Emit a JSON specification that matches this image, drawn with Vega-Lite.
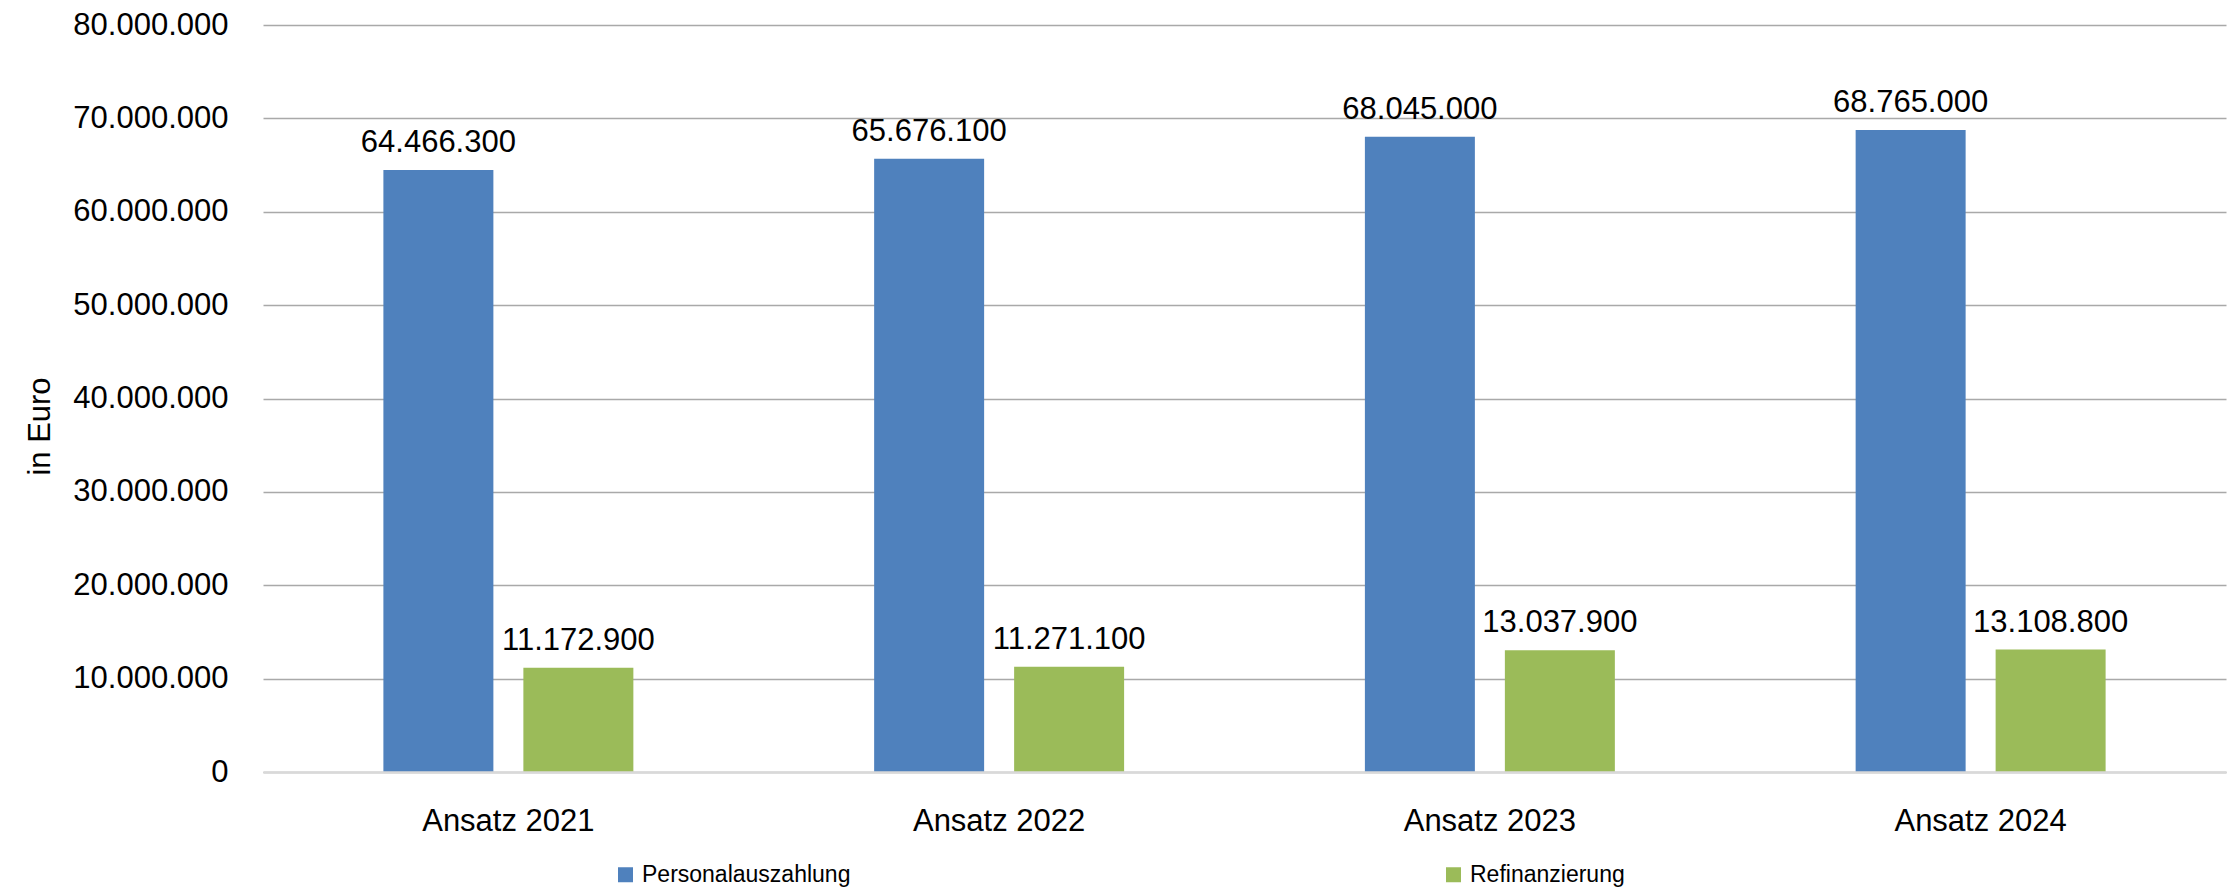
{
  "$schema": "https://vega.github.io/schema/vega-lite/v6.json",
  "width": 1963,
  "height": 747,
  "autosize": {"type": "none"},
  "padding": {"left": 263, "top": 25, "right": 2, "bottom": 119},
  "config": {
    "locale": {"number": {"decimal": ",", "thousands": ".", "grouping": [3], "currency": ["", " €"]}},
    "view": {"stroke": null},
    "font": "Liberation Sans"
  },
  "data": {
    "values": [
      {"jahr": "Ansatz 2021", "art": "Personalauszahlung", "wert": 64466300},
      {"jahr": "Ansatz 2021", "art": "Refinanzierung", "wert": 11172900},
      {"jahr": "Ansatz 2022", "art": "Personalauszahlung", "wert": 65676100},
      {"jahr": "Ansatz 2022", "art": "Refinanzierung", "wert": 11271100},
      {"jahr": "Ansatz 2023", "art": "Personalauszahlung", "wert": 68045000},
      {"jahr": "Ansatz 2023", "art": "Refinanzierung", "wert": 13037900},
      {"jahr": "Ansatz 2024", "art": "Personalauszahlung", "wert": 68765000},
      {"jahr": "Ansatz 2024", "art": "Refinanzierung", "wert": 13108800}
    ]
  },
  "encoding": {
    "x": {
      "field": "jahr", "type": "nominal",
      "scale": {"paddingInner": 0, "paddingOuter": 0},
      "axis": {
        "title": null, "labelAngle": 0, "ticks": false, "tickSize": 0, "labelLimit": 0,
        "labelFont": "Liberation Sans", "labelFontSize": 31, "labelColor": "#000000",
        "labelBaseline": "alphabetic", "labelPadding": 58,
        "domainColor": "#D9D9D9", "domainWidth": 2.5, "grid": false, "zindex": 1
      }
    },
    "xOffset": {
      "field": "art", "type": "nominal",
      "scale": {"paddingInner": 0.2143, "paddingOuter": 0.86}
    },
    "y": {
      "field": "wert", "type": "quantitative",
      "scale": {"domain": [0, 80000000], "nice": false},
      "axis": {
        "title": "in Euro", "format": ",d", "values": [0,10000000,20000000,30000000,40000000,50000000,60000000,70000000,80000000],
        "labelOverlap": false,
        "ticks": false, "tickSize": 0, "domain": false,
        "labelFont": "Liberation Sans", "labelFontSize": 31, "labelColor": "#000000", "labelPadding": 35,
        "gridColor": "#A9A9A9", "gridWidth": 1.5,
        "titleFont": "Liberation Sans", "titleFontSize": 31, "titleFontWeight": "normal", "titleColor": "#000000",
        "titleAngle": -90, "titleAlign": "center", "titleBaseline": "middle", "titleX": -223, "titleY": 401
      }
    }
  },
  "layer": [
    {
      "mark": {"type": "bar"},
      "encoding": {
        "color": {
          "field": "art", "type": "nominal",
          "scale": {"domain": ["Personalauszahlung", "Refinanzierung"], "range": ["#4F81BD", "#9BBB59"]},
          "legend": {
            "title": null, "orient": "none", "legendX": 351, "legendY": 838,
            "direction": "horizontal", "columns": 2, "columnPadding": 591, "padding": 0,
            "symbolType": "square", "symbolSize": 225, "symbolStrokeWidth": 0, "symbolOpacity": 1,
            "labelFont": "Liberation Sans", "labelFontSize": 23, "labelColor": "#000000",
            "labelOffset": 5, "labelLimit": 600
          }
        }
      }
    },
    {
      "mark": {"type": "text", "dy": -18, "baseline": "alphabetic", "align": "center", "fontSize": 31, "font": "Liberation Sans", "color": "#000000"},
      "encoding": {
        "text": {"field": "wert", "type": "quantitative", "format": ",d"}
      }
    }
  ]
}
